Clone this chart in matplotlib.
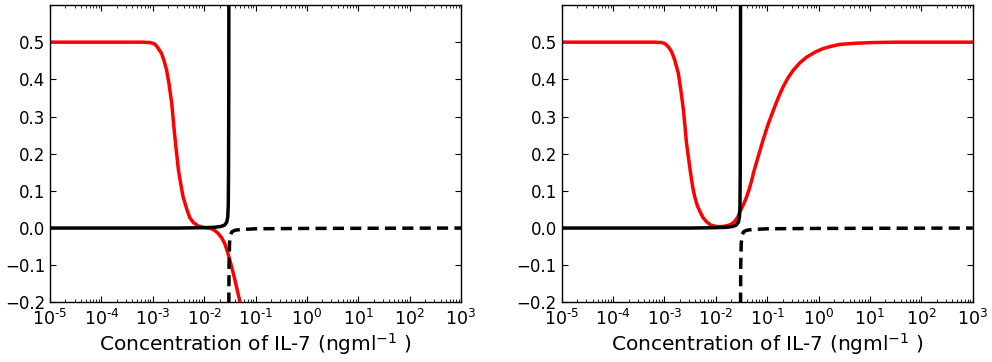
import numpy as np
import matplotlib
matplotlib.use("Agg")
import matplotlib.pyplot as plt
from matplotlib.ticker import LogLocator, FixedLocator, NullFormatter

# ---- data (x given as log10 of concentration) ----
red_left_logx = [-5.0, -3.2, -3.05, -2.96, -2.90, -2.83, -2.78, -2.73, -2.68, -2.63,
                 -2.57, -2.50, -2.45, -2.41, -2.34, -2.28, -2.21, -2.12, -2.02, -1.93,
                 -1.85, -1.78, -1.73, -1.66, -1.60, -1.55, -1.50, -1.45, -1.40, -1.35,
                 -1.30, -1.26]
red_left_y = [0.5, 0.5, 0.499, 0.495, 0.485, 0.470, 0.450, 0.425, 0.385, 0.335,
              0.245, 0.156, 0.115, 0.084, 0.052, 0.028, 0.015, 0.006, 0.002, 0.0,
              -0.002, -0.008, -0.014, -0.026, -0.041, -0.062, -0.086, -0.112, -0.140, -0.170,
              -0.200, -0.225]

red_right_logx = [-5.0, -3.2, -3.05, -2.99, -2.92, -2.86, -2.80, -2.73, -2.68, -2.63,
                  -2.57, -2.50, -2.45, -2.41, -2.36, -2.31, -2.25, -2.18, -2.10, -1.98,
                  -1.88, -1.79, -1.70, -1.63, -1.57, -1.53, -1.46, -1.40, -1.35, -1.30,
                  -1.27, -1.18, -1.08, -0.98, -0.88, -0.78, -0.69, -0.59, -0.49, -0.36,
                  -0.23, -0.07, 0.09, 0.25, 0.41, 0.70, 1.06, 1.50, 3.0]
red_right_y = [0.5, 0.5, 0.499, 0.496, 0.487, 0.474, 0.452, 0.416, 0.370, 0.317,
               0.228, 0.156, 0.110, 0.084, 0.060, 0.045, 0.028, 0.017, 0.008, 0.004,
               0.004, 0.006, 0.010, 0.018, 0.030, 0.044, 0.064, 0.084, 0.105, 0.129,
               0.147, 0.190, 0.237, 0.280, 0.317, 0.352, 0.380, 0.405, 0.425, 0.445,
               0.460, 0.473, 0.483, 0.489, 0.494, 0.497, 0.499, 0.5, 0.5]

black_logx = [-5.0, -2.5, -2.0, -1.8, -1.68, -1.60, -1.56, -1.54, -1.53, -1.525, -1.52, -1.518]
black_y = [0.0, 0.0, 0.001, 0.002, 0.004, 0.008, 0.016, 0.030, 0.060, 0.150, 0.400, 0.700]

dashed_logx = [-1.52, -1.515, -1.505, -1.49, -1.46, -1.40, -1.30, -1.0, 0.0, 3.0]
dashed_y = [-0.25, -0.10, -0.04, -0.02, -0.010, -0.006, -0.004, -0.002, -0.001, 0.0]

xlabel = r"Concentration of IL-7 (ngml$^{-1}$ )"
yticks = [-0.2, -0.1, 0.0, 0.1, 0.2, 0.3, 0.4, 0.5]
xtick_exps = [-5, -4, -3, -2, -1, 0, 1, 2, 3]

plt.rcParams.update({
    "font.family": ["DejaVu Sans"],
    "xtick.direction": "in", "ytick.direction": "in",
    "xtick.top": True, "ytick.right": True,
    "xtick.major.size": 4, "ytick.major.size": 4,
    "xtick.minor.size": 2, "ytick.minor.size": 2,
    "xtick.minor.visible": False,
    "axes.linewidth": 1.0,
})

fig = plt.figure(figsize=(9.92, 3.62), dpi=100)
ax1 = fig.add_axes([50/992, 1-302.4/362, 411/992, 297.4/362])
ax2 = fig.add_axes([561.7/992, 1-302.4/362, 411/992, 297.4/362])

def to_x(logx):
    return np.power(10.0, np.asarray(logx))

def exp_label(e):
    s = ("\u2010%d" % abs(e)) if e < 0 else ("%d" % e)
    return "$\\mathdefault{10^{%s}}$" % s

panels = [(ax1, red_left_logx, red_left_y), (ax2, red_right_logx, red_right_y)]
for ax, rx, ry in panels:
    ax.plot(to_x(rx), ry, color="red", lw=2.5)
    ax.plot(to_x(black_logx), black_y, color="black", lw=2.5)
    ax.plot(to_x(dashed_logx), dashed_y, color="black", lw=2.5, ls="--",
            dashes=(3.2, 1.8))
    ax.set_xscale("log")
    ax.set_xlim(1e-5, 1e3)
    ax.set_ylim(-0.2, 0.6)
    ax.set_yticks(yticks)
    ax.set_yticklabels([("%.1f" % v).replace("-", "\u2212") for v in yticks])
    ax.xaxis.set_major_locator(FixedLocator([10.0**e for e in xtick_exps]))
    ax.set_xticklabels([exp_label(e) for e in xtick_exps])
    ax.xaxis.set_minor_locator(LogLocator(base=10, subs=np.arange(2, 10), numticks=20))
    ax.xaxis.set_minor_formatter(NullFormatter())
    ax.tick_params(axis="y", labelsize=12)
    ax.tick_params(axis="x", labelsize=12.5, pad=5)
    ax.set_xlabel(xlabel, fontsize=14.5, labelpad=1)

fig.savefig("out.png", dpi=100, facecolor="white")
